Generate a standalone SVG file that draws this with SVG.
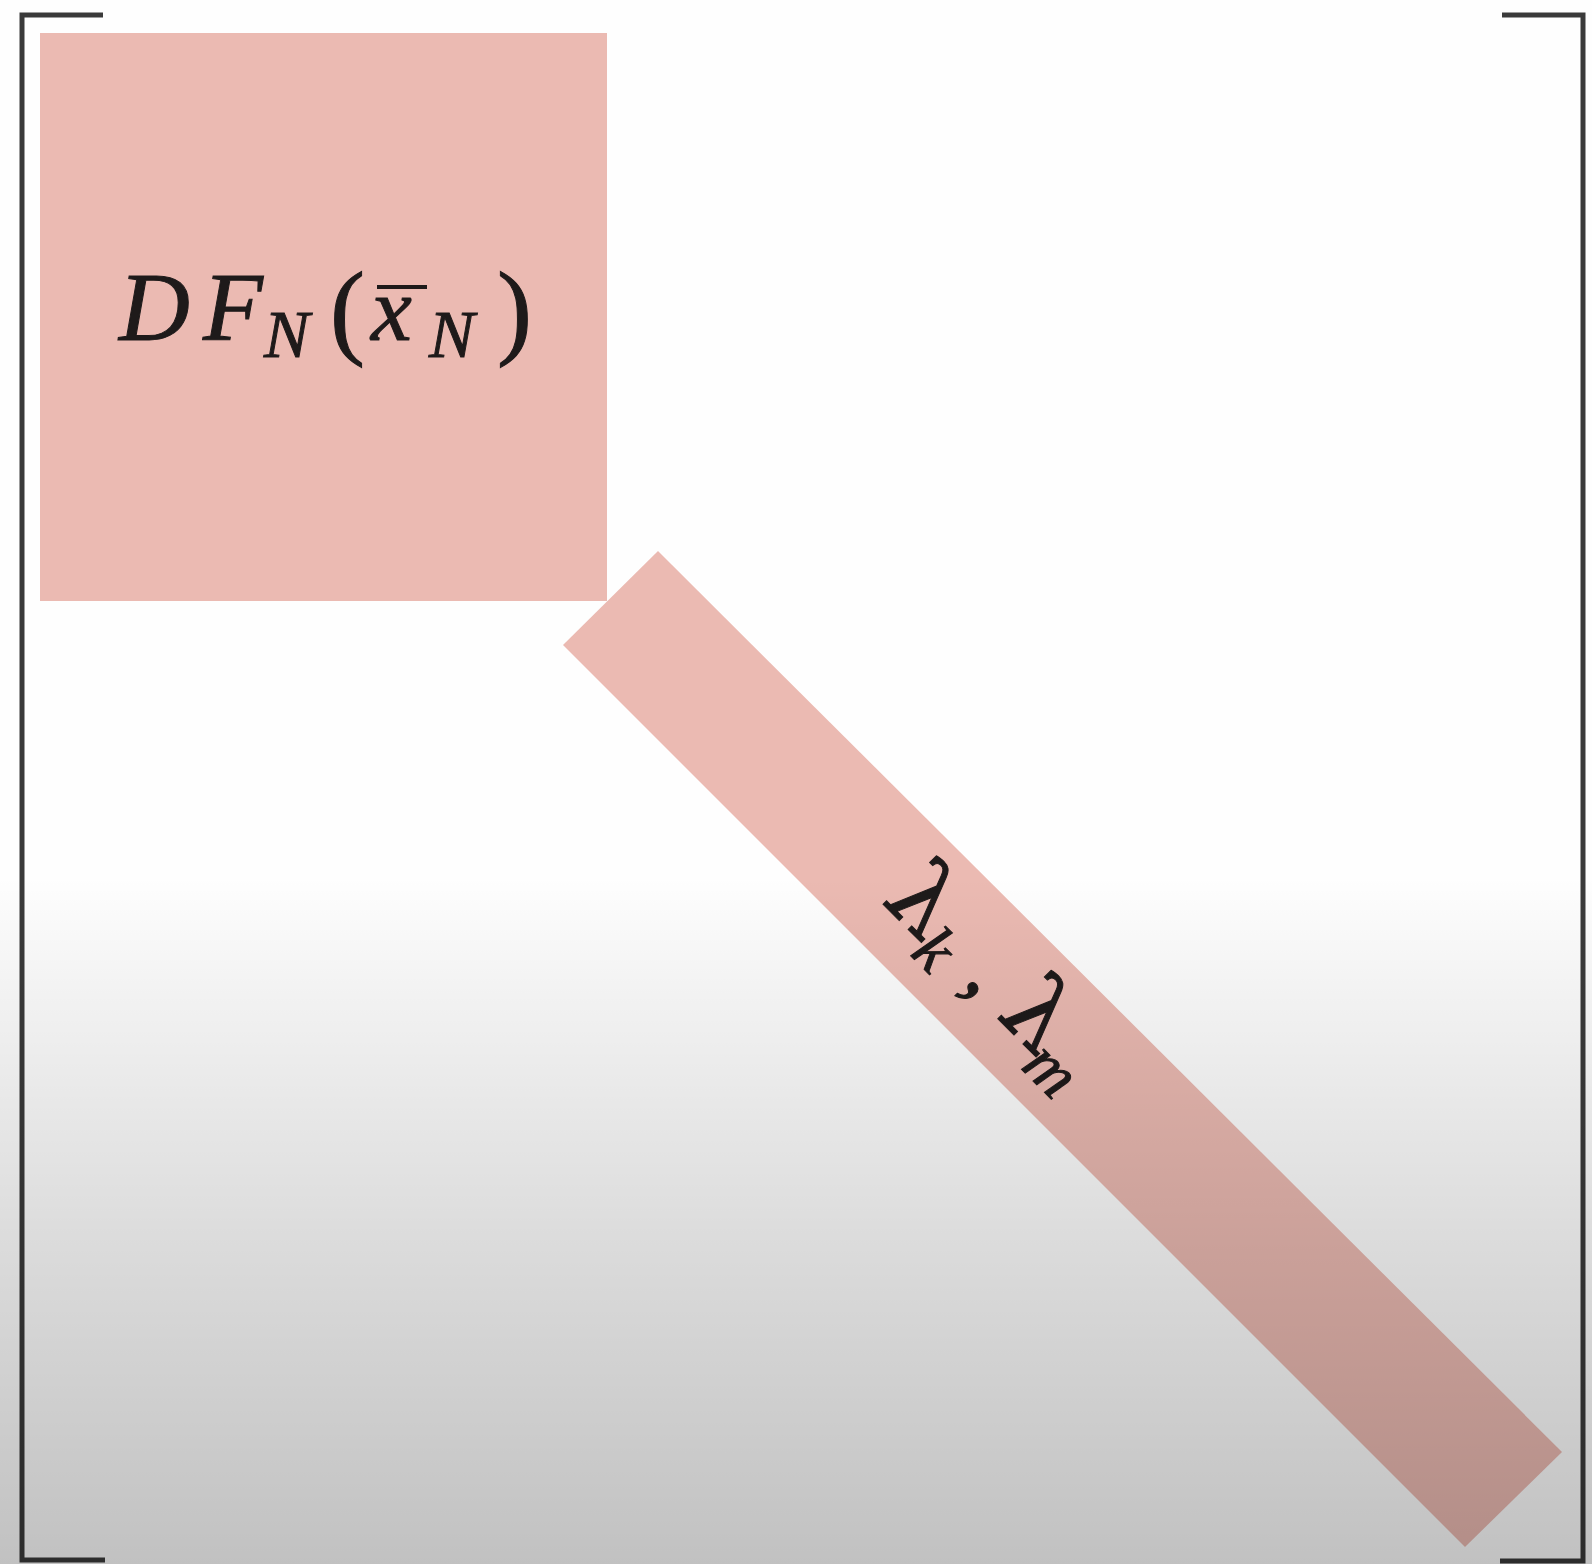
<svg xmlns="http://www.w3.org/2000/svg" width="1592" height="1564" viewBox="0 0 1592 1564">
  <defs>
    <style>
      .blk { fill: #ebbab2; }
      .brk { fill: none; stroke: #3a3a3a; stroke-width: 5; stroke-linecap: butt; stroke-linejoin: miter; }
      .m { font-family: "Liberation Serif", "DejaVu Serif", serif; fill: #1e1a1a; stroke: #1e1a1a; stroke-width: 1; }
      .it { font-style: italic; }
      .g { font-family: "DejaVu Serif", "Liberation Serif", serif; }
    </style>
    <linearGradient id="shade" x1="0" y1="0" x2="0" y2="1564" gradientUnits="userSpaceOnUse">
      <stop offset="0" stop-color="#000" stop-opacity="0"/>
      <stop offset="0.56" stop-color="#000" stop-opacity="0"/>
      <stop offset="0.64" stop-color="#000" stop-opacity="0.05"/>
      <stop offset="0.8" stop-color="#000" stop-opacity="0.14"/>
      <stop offset="1" stop-color="#000" stop-opacity="0.24"/>
    </linearGradient>
  </defs>
  <rect x="0" y="0" width="1592" height="1564" fill="#fefefe"/>

  <g id="block-DF">
    <rect class="blk" x="40" y="33" width="567" height="568"/>
    <text class="m" font-size="98">
      <tspan class="it" x="119" y="340">D</tspan><tspan class="it" x="203" y="340">F</tspan><tspan class="it" x="264" y="357" font-size="68">N</tspan><tspan x="330" y="345" font-size="105">(</tspan><tspan class="it" x="371" y="340" font-size="92">x</tspan><tspan class="it" x="429" y="357" font-size="68">N</tspan><tspan x="497" y="345" font-size="105">)</tspan>
    </text>
    <line x1="377" y1="287" x2="427" y2="287" stroke="#1e1a1a" stroke-width="4"/>
  </g>

  <g id="block-lambda">
    <polygon class="blk" points="658,551 1562,1452 1465,1547 563,645"/>
    <g transform="rotate(45)">
      <text class="m" font-size="96">
        <tspan class="g" x="1260" y="15">λ</tspan><tspan class="it" x="1318" y="32" font-size="66">k</tspan><tspan x="1376" y="15" font-size="90">,</tspan><tspan class="g" x="1422" y="15">λ</tspan><tspan class="it" x="1476" y="34" font-size="66">m</tspan>
      </text>
    </g>
  </g>

  <g id="brackets">
    <path class="brk" d="M103,15 H22 V1560 H105"/>
    <path class="brk" d="M1502,15 H1583 V1561 H1500"/>
  </g>

  <g id="connectors"></g>

  <rect x="0" y="0" width="1592" height="1564" fill="url(#shade)" pointer-events="none"/>
</svg>
